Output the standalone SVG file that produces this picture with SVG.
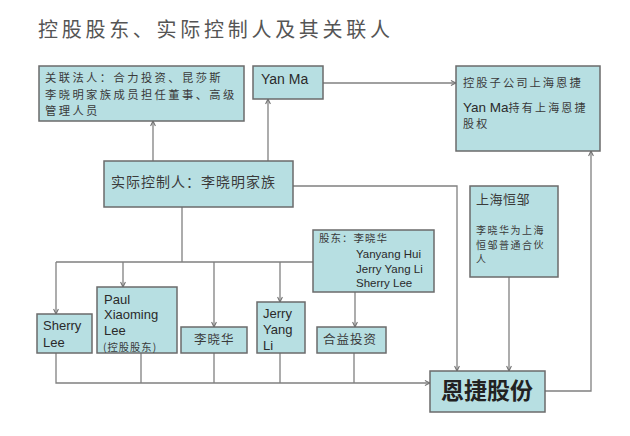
<svg xmlns="http://www.w3.org/2000/svg" width="630" height="436" viewBox="0 0 630 436">
<defs>
<style>
.box{fill:#b7dfe2;stroke:#6b6b6b;stroke-width:1.5}
.cn{font-family:"Noto Sans CJK SC","Liberation Serif",serif;fill:#3a3a3a}
.en{font-family:"Liberation Sans",Arial,sans-serif;fill:#2a2a2a}
.ln{fill:none;stroke:#808080;stroke-width:1.3}
</style>
<marker id="ah" viewBox="0 0 10 10" refX="9.5" refY="5" markerWidth="6" markerHeight="6" orient="auto" markerUnits="userSpaceOnUse">
<path d="M1,1 L9.5,5 L1,9" fill="none" stroke="#707070" stroke-width="1.8"/>
</marker>
</defs>
<rect width="630" height="436" fill="#ffffff"/>
<text x="38" y="37" class="cn" font-size="20" style="fill:#555" textLength="352" lengthAdjust="spacing">控股股东、实际控制人及其关联人</text>

<g id="connectors">
<path class="ln" d="M153,161 V121" marker-end="url(#ah)"/>
<path class="ln" d="M268,161 V99" marker-end="url(#ah)"/>
<path class="ln" d="M323,83 H456" marker-end="url(#ah)"/>
<path class="ln" d="M293,186 H457 V371" marker-end="url(#ah)"/>
<path class="ln" d="M509,277 V371" marker-end="url(#ah)"/>
<path class="ln" d="M545,391 H591 V151" marker-end="url(#ah)"/>
<path class="ln" d="M182,207 V262 M56,262 H313"/>
<path class="ln" d="M56,262 V314" marker-end="url(#ah)"/>
<path class="ln" d="M123,262 V287" marker-end="url(#ah)"/>
<path class="ln" d="M214,262 V327" marker-end="url(#ah)"/>
<path class="ln" d="M280,262 V302" marker-end="url(#ah)"/>
<path class="ln" d="M355,292 V327" marker-end="url(#ah)"/>
<path class="ln" d="M141,353 V383 M214,353 V383 M280,353 V383 M354,353 V383"/>
<path class="ln" d="M56,353 V383 H430" marker-end="url(#ah)"/>
</g>

<g id="n_guanlian">
<rect class="box" x="39" y="66" width="205" height="55"/>
<text class="cn" font-size="11.3" letter-spacing="2.4" x="45" y="82">关联法人：合力投资、昆莎斯</text>
<text class="cn" font-size="11.3" letter-spacing="2.4" x="45" y="98.5">李晓明家族成员担任董事、高级</text>
<text class="cn" font-size="11.3" letter-spacing="2.4" x="45" y="115">管理人员</text>
</g>
<g id="n_yanma">
<rect class="box" x="253" y="66" width="70" height="33"/>
<text class="en" font-size="14" x="261" y="84">Yan Ma</text>
</g>
<g id="n_kongzi">
<rect class="box" x="456" y="66" width="144" height="85"/>
<text class="cn" font-size="11.3" letter-spacing="2" x="463" y="87">控股子公司上海恩捷</text>
<text class="cn" font-size="11" letter-spacing="2.2" x="463" y="112"><tspan class="en" font-size="13.5" letter-spacing="0">Yan Ma</tspan>持有上海恩捷</text>
<text class="cn" font-size="11" letter-spacing="2.2" x="463" y="128">股权</text>
</g>
<g id="n_shiji">
<rect class="box" x="104" y="161" width="189" height="46"/>
<text class="cn" font-size="14" letter-spacing="1" x="111" y="187">实际控制人：李晓明家族</text>
</g>
<g id="n_hengzou">
<rect class="box" x="470" y="186" width="88" height="91"/>
<text class="cn" font-size="13" letter-spacing="0.5" x="476" y="204">上海恒邹</text>
<text class="cn" font-size="10" letter-spacing="1.5" x="476" y="234">李晓华为上海</text>
<text class="cn" font-size="10" letter-spacing="1.5" x="476" y="248.5">恒邹普通合伙</text>
<text class="cn" font-size="10" letter-spacing="1.5" x="476" y="263">人</text>
</g>
<g id="n_gudong">
<rect class="box" x="313" y="230" width="121" height="62"/>
<text class="cn" font-size="10.5" letter-spacing="1" x="319" y="242">股东：李晓华</text>
<text class="en" font-size="11.5" x="356" y="258">Yanyang Hui</text>
<text class="en" font-size="11.5" x="356" y="273">Jerry Yang Li</text>
<text class="en" font-size="11.5" x="356" y="287">Sherry Lee</text>
</g>
<g id="n_sherry">
<rect class="box" x="37" y="314" width="55" height="39"/>
<text class="en" font-size="13" x="43" y="330">Sherry</text>
<text class="en" font-size="13" x="43" y="347">Lee</text>
</g>
<g id="n_paul">
<rect class="box" x="97" y="287" width="80" height="66"/>
<text class="en" font-size="13" x="104" y="304">Paul</text>
<text class="en" font-size="13" x="104" y="319">Xiaoming</text>
<text class="en" font-size="13" x="104" y="335">Lee</text>
<text class="cn" font-size="10.3" letter-spacing="1" x="103" y="351">(控股股东)</text>
</g>
<g id="n_lxh">
<rect class="box" x="181" y="327" width="66" height="26"/>
<text class="cn" font-size="12.5" letter-spacing="1" x="194" y="344">李晓华</text>
</g>
<g id="n_jerry">
<rect class="box" x="257" y="302" width="48" height="51"/>
<text class="en" font-size="13" x="263" y="318">Jerry</text>
<text class="en" font-size="13" x="263" y="334">Yang</text>
<text class="en" font-size="13" x="263" y="350">Li</text>
</g>
<g id="n_heyi">
<rect class="box" x="317" y="327" width="69" height="26"/>
<text class="cn" font-size="12.5" letter-spacing="1" x="323" y="344">合益投资</text>
</g>
<g id="n_enjie">
<rect class="box" x="430" y="371" width="115" height="41"/>
<text class="cn" font-size="23" font-weight="bold" x="441" y="399" style="fill:#222">恩捷股份</text>
</g>
</svg>
